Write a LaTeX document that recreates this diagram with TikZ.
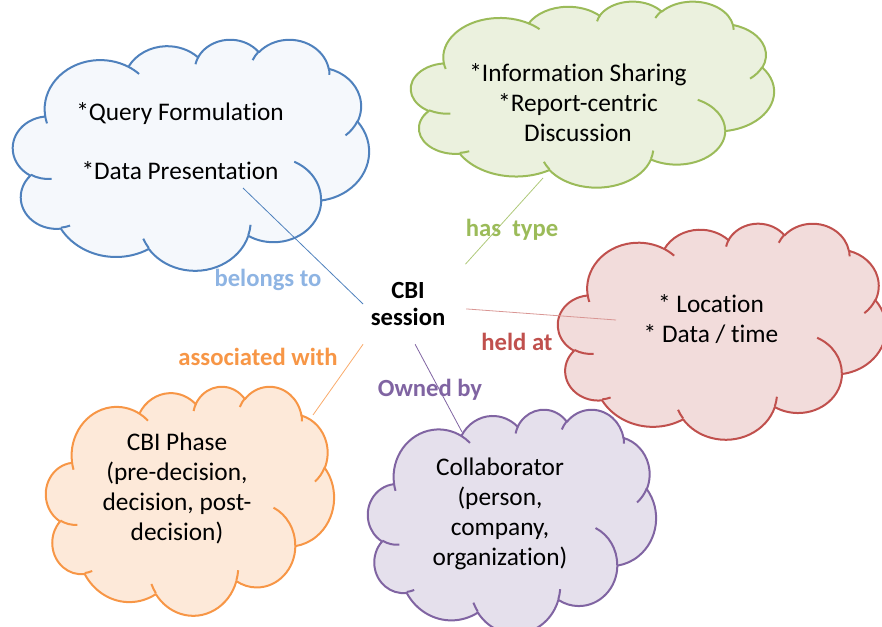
\documentclass[tikz,border=0pt]{standalone}
\usepackage{fontspec}
\setmainfont{Carlito}[Ligatures = NoCommon]
\usepackage{tikz}
\definecolor{queryblue}{HTML}{4F81BD}
\definecolor{queryfill}{HTML}{F5F8FC}
\definecolor{belongsblue}{HTML}{8EB4E3}
\definecolor{typegreen}{HTML}{9BBB59}
\definecolor{typefill}{HTML}{EBF1DE}
\definecolor{heldred}{HTML}{C0504D}
\definecolor{heldline}{HTML}{D99694}
\definecolor{heldfill}{HTML}{F2DCDB}
\definecolor{phaseorange}{HTML}{F79646}
\definecolor{phasefill}{HTML}{FDE9D9}
\definecolor{ownpurple}{HTML}{8064A2}
\definecolor{ownfill}{HTML}{E5E0EC}
\tikzset{txt/.style = {align = center, font = \fontsize{19}{22.5}\selectfont}}
\tikzset{rel/.style = {font = \fontsize{18.5}{20.25}\selectfont\bfseries}}
\tikzset{link/.style = {line width = 0.6pt}}
% elliptic arc, angles measured as seen (start, sweep, x radius, y radius)
\newcommand{\puff}[4]{arc [x radius = #3, y radius = #4,
  start angle = {atan2(#3*sin(#1), #4*cos(#1))},
  delta angle = {atan2(#3*sin(#1+#2), #4*cos(#1+#2)) - atan2(#3*sin(#1), #4*cos(#1))
    + 360*round((#2 - atan2(#3*sin(#1+#2), #4*cos(#1+#2)) + atan2(#3*sin(#1), #4*cos(#1)))/360)}]}
% cloud in a 432 x 432 box: left, top, width, height, line colour, fill colour
\newcommand{\bubble}[6]{%
  \begin{scope}[shift = {(#1, #2)}, xscale = #3/432, yscale = #4/432, line width = 1.5pt, line join = round]
    \filldraw [draw = #5, fill = #6] (39.00, 143.70)
      \puff{-190.487}{123.781}{67.53}{91.90} \puff{-144.102}{89.945}{53.33}{72.67}
      \puff{-145.808}{99.723}{43.65}{59.45} \puff{-130.986}{117.242}{48.57}{65.95}
      \puff{-78.709}{109.027}{53.33}{72.73} \puff{-46.267}{130.269}{67.75}{92.20}
      \puff{0.625}{114.033}{57.85}{78.67} \puff{22.452}{115.173}{67.52}{92.15}
      \puff{66.243}{75.711}{77.20}{105.43} \puff{-274.942}{146.736}{43.60}{59.18}
      \puff{-246.829}{152.519}{43.45}{59.45} -- cycle;
    \draw [#5] (46.93, 261.77) \puff{86.742}{26.430}{43.45}{59.45}
      (69.28, 348.99) \puff{73.610}{11.447}{43.60}{59.18}
      (164.78, 390.90) \puff{137.624}{14.081}{67.52}{92.15}
      (288.27, 347.51) \puff{6.453}{15.998}{67.52}{92.15}
      (341.29, 229.54) \puff{-70.292}{70.917}{57.85}{78.67}
      (417.98, 153.54) \puff{30.318}{27.752}{53.33}{72.73}
      (383.24, 54.26) \puff{-13.744}{14.859}{48.57}{65.95}
      (290.78, 39.52) \puff{-149.181}{18.195}{48.57}{65.95}
      (221.41, 47.20) \puff{-163.494}{17.686}{43.65}{59.45}
      (140.00, 51.92) \puff{-66.707}{12.319}{67.53}{91.90}
      (41.27, 157.89) \puff{157.654}{11.858}{67.53}{91.90};
  \end{scope}}

\begin{document}
\begin{tikzpicture}[x = 0.75pt, y = -0.75pt]
      \useasboundingbox (0, 0) rectangle (882, 627);

      \bubble{13}{39}{356}{231}{queryblue}{queryfill}
      \bubble{411}{1}{363}{186}{typegreen}{typefill}
      \bubble{558}{223}{328}{216}{heldred}{heldfill}
      \bubble{46}{386}{288}{229}{phaseorange}{phasefill}
      \bubble{368}{409}{288}{224}{ownpurple}{ownfill}

      \node [rel, align = center, minimum width = 67pt, minimum height = 60pt] (cbi) at (408, 304) {CBI\\session};

      \coordinate (queryend) at (243, 188);
      \coordinate (typeend) at (543, 178);
      \coordinate (heldend) at (616, 320);
      \coordinate (phaseend) at (313, 415);
      \coordinate (ownend) at (462, 432);

      \draw [link, queryblue] (cbi.west) -- (queryend);
      \draw [link, typegreen!80, shorten <= 14pt] (cbi.30) -- (typeend);
      \draw [link, heldline, shorten <= 10pt] (cbi.-5) -- (heldend);
      \draw [link, phaseorange!80] (cbi.south west) -- (phaseend);
      \draw [link, ownpurple] (cbi.-80) -- (ownend);

      \node [txt] (querytext) at (180, 141) {*Query Formulation\\[21.75pt]*Data Presentation};
      \node [txt] (typetext) at (578, 103) {*Information Sharing\\*Report-centric\\Discussion};
      \node [txt] (heldtext) at (711, 319) {* Location\\* Data / time};
      \node [txt] (phasetext) at (177, 488) {CBI Phase\\(pre-decision,\\decision, post-\\decision)};
      \node [txt] (owntext) at (500, 514) {Collaborator\\(person,\\company,\\organization)};

      \node [rel, belongsblue] (belongs) at (268, 280) {belongs to};
      \node [rel, typegreen] (hastype) at (512, 230) {has~ type};
      \node [rel, heldred] (heldat) at (517, 342) {held at};
      \node [rel, phaseorange] (associated) at (258, 357) {associated with};
      \node [rel, ownpurple] (owned) at (430, 390) {Owned by};

    % relations of the session
\end{tikzpicture}
\end{document}
